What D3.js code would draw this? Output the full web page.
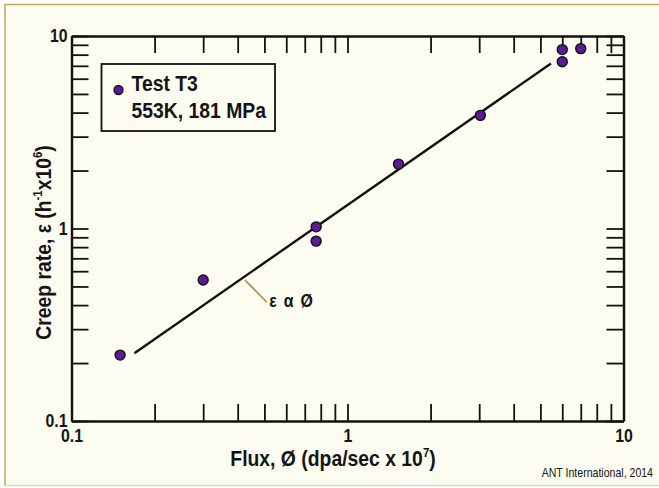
<!DOCTYPE html>
<html>
<head>
<meta charset="utf-8">
<script src="https://cdn.jsdelivr.net/npm/d3@7"></script>
<style>
  body { margin: 0; background: #fff; }
  text { font-family: "Liberation Sans", Arial, sans-serif; fill: #141414; }
</style>
</head>
<body>
<svg id="chart" width="659" height="488"></svg>
<script>
// creep rate vs flux, test T3 (log-log)
var flux      = [0.15, 0.30, 0.77, 0.77, 1.53, 3.03, 6.0, 6.0, 7.0];
var creepRate = [0.22, 0.54, 1.02, 0.86, 2.16, 3.87, 8.5, 7.35, 8.6];
var fitFlux   = [0.169, 5.46];
var fitRate   = [0.225, 7.2];
var decadeTicks = [0.1, 1, 10];
var legendLines = ["Test T3", "553K, 181 MPa"];
var noteText  = "ε α Ø";
var noteFrom  = [0.425, 0.54];
var noteTo    = [0.51, 0.414];

var svg = d3.select('#chart'),
    W = +svg.attr('width'),
    H = +svg.attr('height'),
    SQ = 0.88;   // the original lettering is a bit condensed

var plotL = 71.5, plotR = 623.5, plotT = 36, plotB = 421;

var x = d3.scaleLog().domain([0.1, 10]).range([plotL, plotR]);
var y = d3.scaleLog().domain([0.1, 10]).range([plotB, plotT]);

// background + frame
svg.append('rect').attr('x', 5).attr('y', 4.5).attr('width', W).attr('height', H - 6)
    .attr('fill', '#fcfcf1');
svg.append('path').attr('d', 'M5,' + (H - 2) + 'V4.5H' + W)
    .attr('fill', 'none').attr('stroke', '#c9a35e').attr('stroke-width', 1.5);
svg.append('path').attr('d', 'M5,' + (H - 2.5) + 'H' + W)
    .attr('fill', 'none').attr('stroke', '#d9d9d2').attr('stroke-width', 1.5);

function squeeze(sel, origin) {
    sel.style('transform-box', 'fill-box')
       .style('transform-origin', origin)
       .style('transform', 'scaleX(' + SQ + ')');
}

var fmt = function(d) { return decadeTicks.indexOf(d) >= 0 ? String(d) : ''; };
var TICK = 17;

var gx = svg.append('g').attr('transform', 'translate(0,' + plotB + ')')
    .call(d3.axisBottom(x).tickSizeInner(-TICK).tickSizeOuter(0).tickPadding(8).tickFormat(fmt));
var gy = svg.append('g').attr('transform', 'translate(' + plotL + ',0)')
    .call(d3.axisLeft(y).tickSizeInner(-TICK).tickSizeOuter(0).tickPadding(4).tickFormat(fmt));
var gt = svg.append('g').attr('transform', 'translate(0,' + plotT + ')')
    .call(d3.axisTop(x).tickSizeInner(-TICK).tickSizeOuter(0).tickFormat(''));
var gr = svg.append('g').attr('transform', 'translate(' + plotR + ',0)')
    .call(d3.axisRight(y).tickSizeInner(-TICK).tickSizeOuter(0).tickFormat(''));

[gx, gy, gt, gr].forEach(function(g) {
    g.select('.domain').attr('stroke', '#111').attr('stroke-width', 2.4);
    g.selectAll('.tick line').attr('stroke', '#111').attr('stroke-width', 1.8);
    g.selectAll('.tick text').attr('font-size', 18).attr('font-weight', 'bold')
        .attr('font-family', null).attr('fill', '#141414');
});
squeeze(gx.selectAll('.tick text'), 'center');
squeeze(gy.selectAll('.tick text'), 'right center');

// fit line
var fit = fitFlux.map(function(f, i) { return [f, fitRate[i]]; });
svg.append('path').datum(fit)
    .attr('d', d3.line().x(function(d) { return x(d[0]); }).y(function(d) { return y(d[1]); }))
    .attr('stroke', '#111').attr('stroke-width', 2.4).attr('fill', 'none');

// annotation
svg.append('line')
    .attr('x1', x(noteFrom[0])).attr('y1', y(noteFrom[1]))
    .attr('x2', x(noteTo[0])).attr('y2', y(noteTo[1]))
    .attr('stroke', '#a58d52').attr('stroke-width', 1.6);
svg.append('text')
    .attr('transform', 'translate(' + (x(noteTo[0]) + 2.5) + ',' + (y(noteTo[1]) + 5) + ') scale(' + SQ + ',1)')
    .attr('font-size', 18).attr('font-weight', 'bold')
    .style('white-space', 'pre').attr('letter-spacing', 1.5)
    .text(noteText);

// data points
svg.append('g').selectAll('circle')
    .data(flux.map(function(f, i) { return [f, creepRate[i]]; }))
    .enter().append('circle')
    .attr('cx', function(d) { return x(d[0]); })
    .attr('cy', function(d) { return y(d[1]); })
    .attr('r', 5)
    .attr('fill', '#5b1a98').attr('stroke', '#111').attr('stroke-width', 1.4);

// legend
var lg = svg.append('g').attr('transform', 'translate(' + (plotL + 30) + ',' + (plotT + 28) + ')');
lg.append('rect').attr('width', 173.5).attr('height', 67)
    .attr('fill', 'none').attr('stroke', '#111').attr('stroke-width', 1.8);
lg.append('circle').attr('cx', 17).attr('cy', 26).attr('r', 4.5)
    .attr('fill', '#5b1a98').attr('stroke', '#111').attr('stroke-width', 1.3);
lg.selectAll('text.lg').data(legendLines).enter().append('text')
    .attr('class', 'lg')
    .attr('transform', function(d, i) { return 'translate(30,' + (27 + i * 26.7) + ') scale(' + SQ + ',1)'; })
    .attr('font-size', 22).attr('font-weight', 'bold')
    .text(function(d) { return d; });

// axis titles
var xt = svg.append('text')
    .attr('transform', 'translate(333,465.5) scale(' + SQ + ',1)')
    .attr('text-anchor', 'middle').attr('font-size', 22).attr('font-weight', 'bold');
xt.append('tspan').text('Flux, Ø (dpa/sec x 10');
xt.append('tspan').attr('font-size', 13).attr('dy', -9).text('7');
xt.append('tspan').attr('dy', 9).text(')');

var yt = svg.append('text')
    .attr('transform', 'translate(50.5,242.5) rotate(-90) scale(' + SQ + ',1)')
    .attr('text-anchor', 'middle').attr('font-size', 22).attr('font-weight', 'bold');
yt.append('tspan').text('Creep rate, ε (h');
yt.append('tspan').attr('font-size', 13).attr('dy', -9).text('-1');
yt.append('tspan').attr('dy', 9).text('x10');
yt.append('tspan').attr('font-size', 13).attr('dy', -9).text('6');
yt.append('tspan').attr('dy', 9).text(')');

// credit
svg.append('text')
    .attr('transform', 'translate(653,476.5) scale(' + SQ + ',1)')
    .attr('text-anchor', 'end')
    .attr('font-size', 12).attr('fill', '#222')
    .text('ANT International, 2014');
</script>
</body>
</html>
